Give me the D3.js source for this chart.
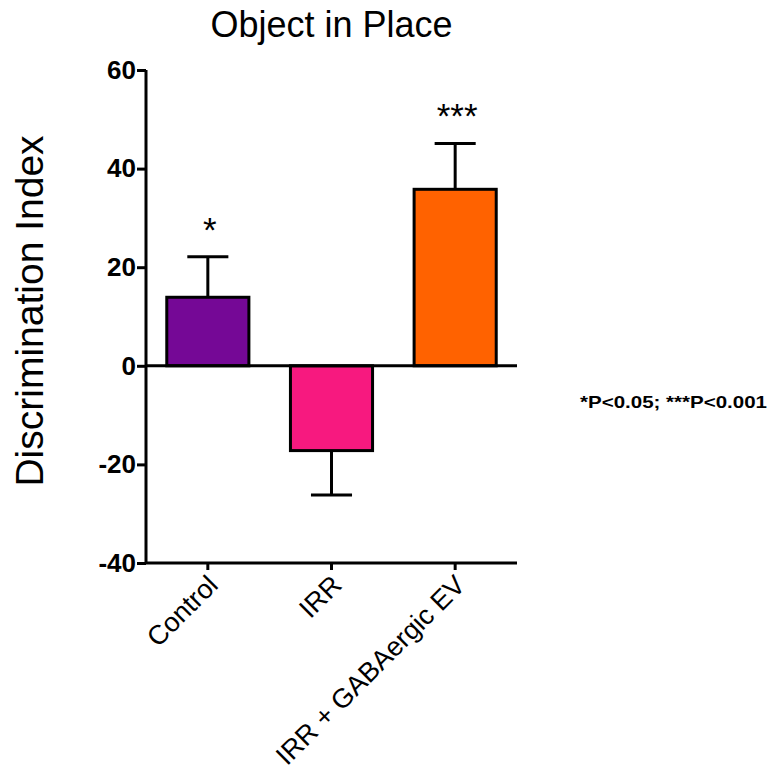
<!DOCTYPE html>
<html>
<head>
<meta charset="utf-8">
<script src="https://cdn.jsdelivr.net/npm/d3@7"></script>
<style>
  body { margin: 0; background: #fff; }
  svg { display: block; font-family: "Liberation Sans", Arial, sans-serif; }
</style>
</head>
<body>
<svg id="chart" width="770" height="774"></svg>
<script>
// data
const groups = ["Control", "IRR", "IRR + GABAergic EV"]
const means = [13.9, -17.2, 35.8]
const sems = [8.2, 9.0, 9.3]
const stars = ["*", "", "***"]
const colours = ["#750896", "#F7197F", "#FF6200"]
const yTicks = [-40, -20, 0, 20, 40, 60]
const title = "Object in Place"
const yLabel = "Discrimination Index"
const note = "*P<0.05; ***P<0.001"

const svg = d3.select("#chart")
const plotL = 146, plotR = 517, plotT = 70, plotB = 563
const black = "#000"

const x = d3.scaleBand().domain(groups).range([plotL, plotR])
  .paddingInner(0.336).paddingOuter(0.168)
const y = d3.scaleLinear().domain([-40, 60]).range([plotB, plotT])

// title
svg.append("text")
  .attr("x", (plotL + plotR) / 2)
  .attr("y", 37)
  .attr("text-anchor", "middle")
  .attr("font-size", 36)
  .text(title)

// y label
svg.append("text")
  .attr("transform", "translate(43,311) rotate(-90)")
  .attr("text-anchor", "middle")
  .attr("font-size", 39)
  .text(yLabel)

// y axis
const yAxis = svg.append("g")
  .attr("transform", `translate(${plotL},0)`)
  .call(d3.axisLeft(y).tickValues(yTicks).tickSize(9).tickPadding(1).tickFormat(d => String(d)))
yAxis.select(".domain").attr("stroke", black).attr("stroke-width", 3)
  .attr("d", `M0,${plotB}V${plotT}`)
yAxis.selectAll(".tick line").attr("stroke", black).attr("stroke-width", 3)
yAxis.selectAll(".tick text")
  .attr("font-size", 26)
  .attr("font-weight", "bold")
  .attr("font-family", "Liberation Sans, Arial, sans-serif")
  .attr("fill", black)

// x axis at the bottom
const xAxis = svg.append("g")
  .attr("transform", `translate(0,${plotB})`)
  .call(d3.axisBottom(x).tickSize(7).tickSizeOuter(0))
xAxis.select(".domain").attr("stroke", black).attr("stroke-width", 3)
  .attr("d", `M${plotL},0H${plotR}`)
xAxis.selectAll(".tick line").attr("stroke", black).attr("stroke-width", 3)
xAxis.selectAll(".tick text")
  .attr("font-size", 27)
  .attr("font-family", "Liberation Sans, Arial, sans-serif")
  .attr("fill", black)
  .attr("text-anchor", "end")
  .attr("dy", "0.35em")
  .attr("transform", "translate(5,17) rotate(-45)")
  .attr("y", 0)

// bars
const bw = x.bandwidth()
svg.append("g").selectAll("rect")
  .data(groups)
  .join("rect")
  .attr("x", d => x(d))
  .attr("width", bw)
  .attr("y", (d, i) => y(Math.max(0, means[i])))
  .attr("height", (d, i) => Math.abs(y(means[i]) - y(0)))
  .attr("fill", (d, i) => colours[i])
  .attr("stroke", black)
  .attr("stroke-width", 3)

// zero line
svg.append("path")
  .attr("d", d3.line()([[plotL, y(0)], [plotR, y(0)]]))
  .attr("stroke", black)
  .attr("stroke-width", 3)

// error bars, one direction only
const errs = svg.append("g").attr("stroke", black).attr("stroke-width", 3).attr("fill", "none")
groups.forEach((g, i) => {
  const cx = x(g) + bw / 2
  const end = means[i] >= 0 ? means[i] + sems[i] : means[i] - sems[i]
  errs.append("path").attr("d", d3.line()([[cx, y(means[i])], [cx, y(end)]]))
  errs.append("path").attr("d", d3.line()([[cx - bw / 4, y(end)], [cx + bw / 4, y(end)]]))
})

// significance stars
svg.append("g").selectAll("text")
  .data(groups)
  .join("text")
  .attr("x", d => x(d) + bw / 2 + 2)
  .attr("y", (d, i) => y(means[i] + sems[i]) - 15)
  .attr("text-anchor", "middle")
  .attr("font-size", 35)
  .text((d, i) => stars[i])

// footnote
svg.append("text")
  .attr("x", 580)
  .attr("y", 408)
  .attr("font-size", 17)
  .attr("font-weight", "bold")
  .attr("textLength", 187)
  .attr("lengthAdjust", "spacingAndGlyphs")
  .text(note)
</script>
</body>
</html>
